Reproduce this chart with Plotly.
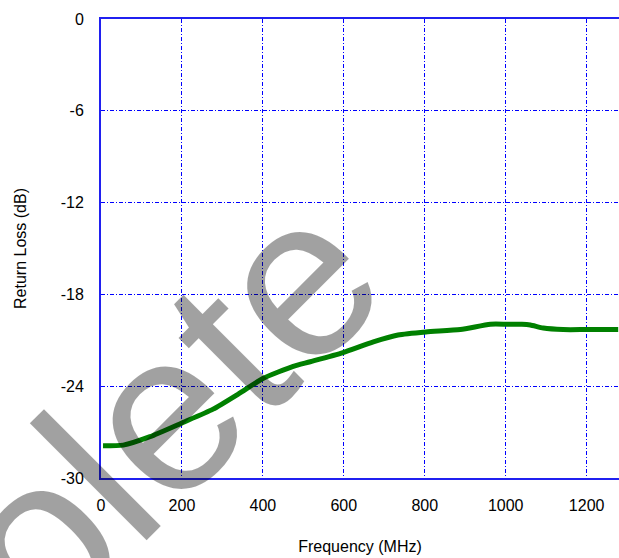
import plotly.graph_objects as go

freq_mhz = [5, 55, 121, 200, 277, 340, 400, 475, 517, 598, 673, 734, 803, 888, 962, 1004, 1040, 1061, 1093, 1142, 1200, 1278]
return_loss_db = [-27.9, -27.85, -27.3, -26.4, -25.5, -24.5, -23.5, -22.7, -22.4, -21.8, -21.1, -20.65, -20.45, -20.3, -19.95, -19.95, -19.95, -20.0, -20.2, -20.3, -20.3, -20.3]

x_ticks = [0, 200, 400, 600, 800, 1000, 1200]
y_ticks = [0, -6, -12, -18, -24, -30]

W, H = 619, 558
ML, MR, MT, MB = 101, 0, 19, 80

fig = go.Figure()
fig.add_trace(go.Scatter(
    x=freq_mhz, y=return_loss_db, mode="lines",
    line=dict(color="#008000", width=5, shape="spline", smoothing=0.6),
    showlegend=False, hoverinfo="skip",
))

font = dict(family="Liberation Sans, Arial, sans-serif", size=16, color="#000000")

fig.update_layout(
    width=W, height=H,
    margin=dict(l=ML, r=MR, t=MT, b=MB, autoexpand=False),
    paper_bgcolor="white", plot_bgcolor="white",
    font=font,
    xaxis=dict(
        range=[0, 1280], tickvals=x_ticks, ticktext=[str(v) for v in x_ticks],
        showgrid=True, gridcolor="#0000FF", gridwidth=1, griddash="4px,2px,1px,2px",
        showline=True, linecolor="#2020F0", linewidth=2, mirror=True,
        zeroline=False, ticks="", ticklabelstandoff=12, automargin=False,
        tickfont=dict(size=16),
        title=dict(text="Frequency (MHz)", standoff=28, font=dict(size=16)),
    ),
    yaxis=dict(
        range=[-30, 0], tickvals=y_ticks, ticktext=[str(v) for v in y_ticks],
        showgrid=True, gridcolor="#0000FF", gridwidth=1, griddash="4px,2px,1px,2px",
        showline=True, linecolor="#2020F0", linewidth=2, mirror=False,
        zeroline=False, ticks="", ticklabelstandoff=12, automargin=False,
        tickfont=dict(size=16),
        title=dict(text="Return Loss (dB)", standoff=30, font=dict(size=16)),
    ),
)

fig.add_annotation(
    text="Obsolete", xref="paper", yref="paper",
    x=(17 - ML) / (W - ML - MR), y=(H - MB - 558) / (H - MT - MB),
    xanchor="center", yanchor="middle", showarrow=False, textangle=-45,
    font=dict(family="Liberation Sans, Arial, sans-serif", size=228, color="rgba(0,0,0,0.37)"),
)

fig.write_html(
    "out.html",
    config={"responsive": False, "displayModeBar": False},
    post_script="document.body.style.margin='0';document.body.style.overflow='hidden';",
)
